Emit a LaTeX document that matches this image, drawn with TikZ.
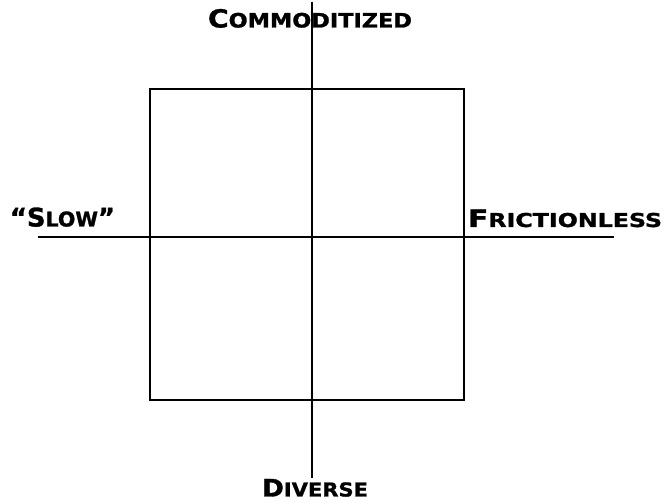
\documentclass[tikz,border=0pt]{standalone}
\usepackage{fontspec}
\setmainfont{DejaVu Sans}
\newfontfamily\heavy[FakeBold=1.2]{DejaVu Sans Bold}
\newcommand{\bigL}[1]{{\fontsize{22}{22}\selectfont #1}}
\newcommand{\smL}[1]{{\fontsize{17.5}{17.5}\selectfont #1}}
\begin{document}
\begin{tikzpicture}[x=1pt,y=-1pt,
  axis/.style={line width=2.2pt,black},
  frame/.style={line width=2.2pt,black},
  lab/.style={inner sep=0pt,font=\heavy,text=black}]
\useasboundingbox (0,0) rectangle (665,502);
\coordinate (top) at (312,2);
\coordinate (bot) at (312,478);
\coordinate (left) at (38,237);
\coordinate (right) at (614,237);
\draw[frame] (150,89) rectangle (464,400);
\draw[axis] (top) -- (bot);
\draw[axis] (left) -- (right);
\node[lab,anchor=base] (comm) at (310,27.5) {\resizebox{204pt}{18.5pt}{\bigL{C}\smL{OMMODITIZED}}};
\node[lab,anchor=base] (slow) at (62.5,226.5) {\resizebox{105pt}{19pt}{\bigL{“S}\smL{LOW}\bigL{”}}};
\node[lab,anchor=base] (fric) at (565,227) {\resizebox{194pt}{17.5pt}{\bigL{F}\smL{RICTIONLESS}}};
\node[lab,anchor=base] (div) at (315,496.5) {\resizebox{106pt}{17.5pt}{\bigL{D}\smL{IVERSE}}};
\end{tikzpicture}
\end{document}
